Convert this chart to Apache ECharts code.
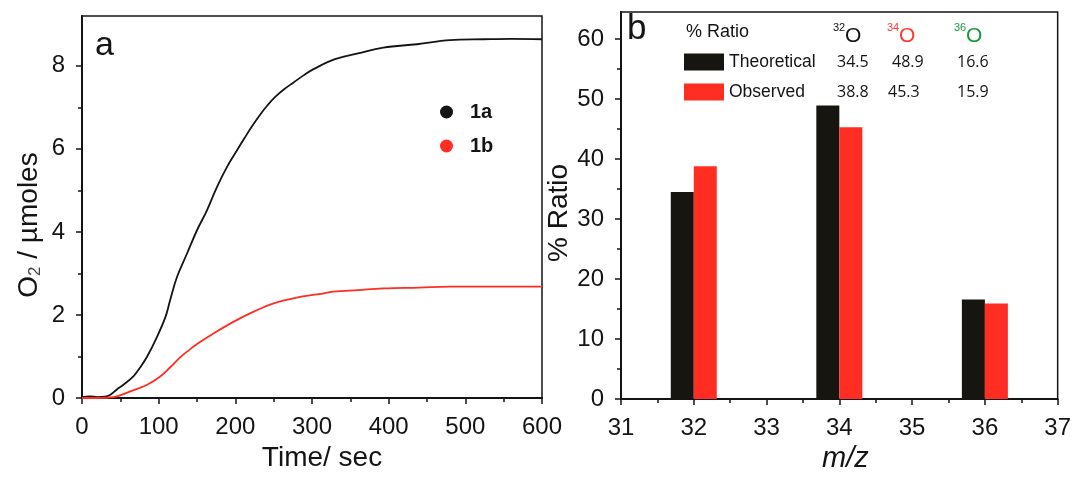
<!DOCTYPE html>
<html>
<head>
<meta charset="utf-8">
<script src="https://cdn.jsdelivr.net/npm/echarts@6/dist/echarts.min.js"></script>
<style>
html,body{margin:0;padding:0;background:#fff;}
#main{width:1074px;height:480px;}
</style>
</head>
<body>
<div id="main"></div>
<script>
// panel a: O2 evolution
var timeA = [0, 10, 20, 30, 37, 45, 54, 67, 76, 85, 98, 109, 115, 124, 137, 150, 163, 176, 189, 202, 212, 222, 233, 242, 252, 264, 276, 289, 302, 330, 360, 393, 437, 480, 524, 560, 600];
var o2A = [0.02, 0.04, 0.02, 0.03, 0.08, 0.2, 0.32, 0.52, 0.74, 1.0, 1.48, 1.96, 2.36, 2.92, 3.48, 4.04, 4.52, 5.08, 5.56, 5.96, 6.26, 6.55, 6.84, 7.05, 7.25, 7.44, 7.6, 7.77, 7.92, 8.16, 8.3, 8.44, 8.52, 8.62, 8.64, 8.65, 8.64];
var timeB = [0, 20, 41, 63, 85, 102, 115, 128, 140, 150, 172, 198, 224, 250, 280, 309, 328, 360, 393, 440, 480, 540, 600];
var o2B = [0, 0, 0.02, 0.16, 0.32, 0.52, 0.74, 0.98, 1.16, 1.3, 1.56, 1.84, 2.08, 2.28, 2.42, 2.5, 2.56, 2.6, 2.64, 2.66, 2.68, 2.68, 2.68];
var yTicksA = [0, 2, 4, 6, 8];
var yMinorA = [1, 3, 5, 7];

// panel b: isotope ratio
var massNums = [32, 34, 36];
var isotopes = ['32', '34', '36'];
var theoretical = [34.5, 48.9, 16.6];
var observed = [38.8, 45.3, 15.9];
var yTicksB = [0, 10, 20, 30, 40, 50, 60];
var yMinorB = [5, 15, 25, 35, 45, 55];

var FONT = 'Liberation Sans';
var INK = '#141414';
var RED = '#ff2d22';

function pairs(xs, ys) {
	var out = [];
	for (var i = 0; i < xs.length; i++) {
		out.push([xs[i], ys[i]]);
	}
	return out;
}

var chart = echarts.init(document.getElementById('main'));

function baseAxis(extra) {
	var ax = {
		type: 'value',
		splitLine: {show: false},
		axisLine: {show: true, onZero: false, lineStyle: {color: INK, width: 2}},
		axisTick: {show: true, length: 6, lineStyle: {color: INK, width: 1.5}},
		axisLabel: {color: INK, fontSize: 24, fontFamily: FONT, margin: 17}
	};
	for (var k in extra) ax[k] = extra[k];
	return ax;
}

// panel letters and the little table beside the legend in panel b
var graphics = [
	{type: 'text', style: {text: 'a', x: 95, y: 63, font: '34px ' + FONT, fill: INK, textVerticalAlign: 'bottom'}},
	{type: 'text', style: {text: 'b', x: 627, y: 47, font: '35px ' + FONT, fill: INK, textVerticalAlign: 'bottom'}},
	{type: 'text', style: {text: '% Ratio', x: 686, y: 32, font: '18px ' + FONT, fill: INK, textVerticalAlign: 'middle'}}
];
var isoColors = [INK, '#ff3b2f', '#1a9a3a'];
var supX = [833, 887, 954];
var colX1 = [837, 892, 957];
var colX2 = [837, 888, 957];
for (var i = 0; i < isotopes.length; i++) {
	graphics.push({type: 'text', style: {text: isotopes[i], x: supX[i], y: 28, font: '11px ' + FONT, fill: isoColors[i], textVerticalAlign: 'middle'}});
	graphics.push({type: 'text', style: {text: 'O', x: supX[i] + 12, y: 36, font: '21px ' + FONT, fill: isoColors[i], textVerticalAlign: 'middle'}});
	graphics.push({type: 'text', style: {text: theoretical[i].toFixed(1), x: colX1[i], y: 62, font: '16px Open Sans', fill: INK, textVerticalAlign: 'middle'}});
	graphics.push({type: 'text', style: {text: observed[i].toFixed(1), x: colX2[i], y: 92, font: '16px Open Sans', fill: INK, textVerticalAlign: 'middle'}});
}

var option = {
	backgroundColor: '#fff',
	animation: false,
	grid: [
		{left: 82, top: 16, width: 460, height: 382, show: true, borderColor: INK, borderWidth: 1.5},
		{left: 621, top: 12, width: 440, height: 387, show: true, borderColor: INK, borderWidth: 1.5}
	],
	legend: [
		{
			data: ['1a', '1b'], orient: 'vertical', left: 440, top: 102, icon: 'circle', padding: 0,
			itemWidth: 13, itemHeight: 13, itemGap: 14, selectedMode: false,
			textStyle: {fontSize: 20, fontWeight: 'bold', fontFamily: FONT, color: INK, lineHeight: 20, padding: [0, 0, 0, 12]}
		},
		{
			data: ['Theoretical', 'Observed'], orient: 'vertical', left: 684, top: 53, icon: 'rect', padding: 0,
			itemWidth: 40, itemHeight: 17, itemGap: 12, selectedMode: false,
			textStyle: {fontSize: 17.5, fontFamily: FONT, color: INK, lineHeight: 18}
		}
	],
	xAxis: [
		baseAxis({
			gridIndex: 0, min: 0, max: 600, interval: 100,
			minorTick: {show: true, splitNumber: 2, length: 4, lineStyle: {color: INK, width: 1.5}},
			name: 'Time/ sec', nameLocation: 'middle', nameGap: 44,
			nameTextStyle: {fontSize: 28, fontFamily: FONT, color: INK, padding: [0, 0, 0, 20]}
		}),
		baseAxis({
			gridIndex: 1, min: 31, max: 37, interval: 1,
			minorTick: {show: true, splitNumber: 2, length: 4, lineStyle: {color: INK, width: 1.5}},
			name: 'm/z', nameLocation: 'middle', nameGap: 40,
			nameTextStyle: {fontSize: 29, fontStyle: 'italic', fontFamily: FONT, color: INK, padding: [0, 0, 0, 12]}
		})
	],
	yAxis: [
		baseAxis({
			gridIndex: 0, min: 0, max: 9.2, interval: 2,
			axisTick: {show: true, length: 6, customValues: yTicksA, lineStyle: {color: INK, width: 1.5}},
			axisLabel: {color: INK, fontSize: 24, fontFamily: FONT, margin: 17, customValues: yTicksA},
			name: '{a|O}{b|2}{a| / µmoles}', nameLocation: 'middle', nameRotate: 90, nameGap: 38,
			nameTextStyle: {
				color: INK, padding: [0, 36, 0, 0],
				rich: {
					a: {fontSize: 28, fontFamily: FONT, color: INK, lineHeight: 30},
					b: {fontSize: 17, fontFamily: FONT, color: '#444', lineHeight: 16, verticalAlign: 'bottom'}
				}
			}
		}),
		{
			type: 'value', gridIndex: 0, min: 0, max: 9.2, interval: 1, position: 'left',
			axisLine: {show: false}, splitLine: {show: false}, axisLabel: {show: false},
			axisTick: {show: true, length: 4, customValues: yMinorA, lineStyle: {color: INK, width: 1.5}}
		},
		baseAxis({
			gridIndex: 1, min: 0, max: 64.5, interval: 10,
			axisTick: {show: true, length: 6, customValues: yTicksB, lineStyle: {color: INK, width: 1.5}},
			axisLabel: {color: INK, fontSize: 24, fontFamily: FONT, margin: 17, customValues: yTicksB},
			name: '% Ratio', nameLocation: 'middle', nameRotate: 90, nameGap: 44,
			nameTextStyle: {fontSize: 28, fontFamily: FONT, color: INK, padding: [0, 15, 0, 0]}
		}),
		{
			type: 'value', gridIndex: 1, min: 0, max: 64.5, interval: 5, position: 'left',
			axisLine: {show: false}, splitLine: {show: false}, axisLabel: {show: false},
			axisTick: {show: true, length: 4, customValues: yMinorB, lineStyle: {color: INK, width: 1.5}}
		}
	],
	series: [
		{
			name: '1a', type: 'line', xAxisIndex: 0, yAxisIndex: 0, data: pairs(timeA, o2A),
			showSymbol: false, smooth: 0.4, lineStyle: {color: INK, width: 1.8}, itemStyle: {color: INK}
		},
		{
			name: '1b', type: 'line', xAxisIndex: 0, yAxisIndex: 0, data: pairs(timeB, o2B),
			showSymbol: false, smooth: 0.4, lineStyle: {color: RED, width: 1.8}, itemStyle: {color: RED}
		},
		{
			name: 'Theoretical', type: 'bar', xAxisIndex: 1, yAxisIndex: 2, data: pairs(massNums, theoretical),
			barWidth: 23, barGap: '0%', itemStyle: {color: '#16150f'}
		},
		{
			name: 'Observed', type: 'bar', xAxisIndex: 1, yAxisIndex: 2, data: pairs(massNums, observed),
			barWidth: 23, barGap: '0%', itemStyle: {color: RED}
		}
	],
	graphic: graphics
};

chart.setOption(option);
</script>
</body>
</html>
